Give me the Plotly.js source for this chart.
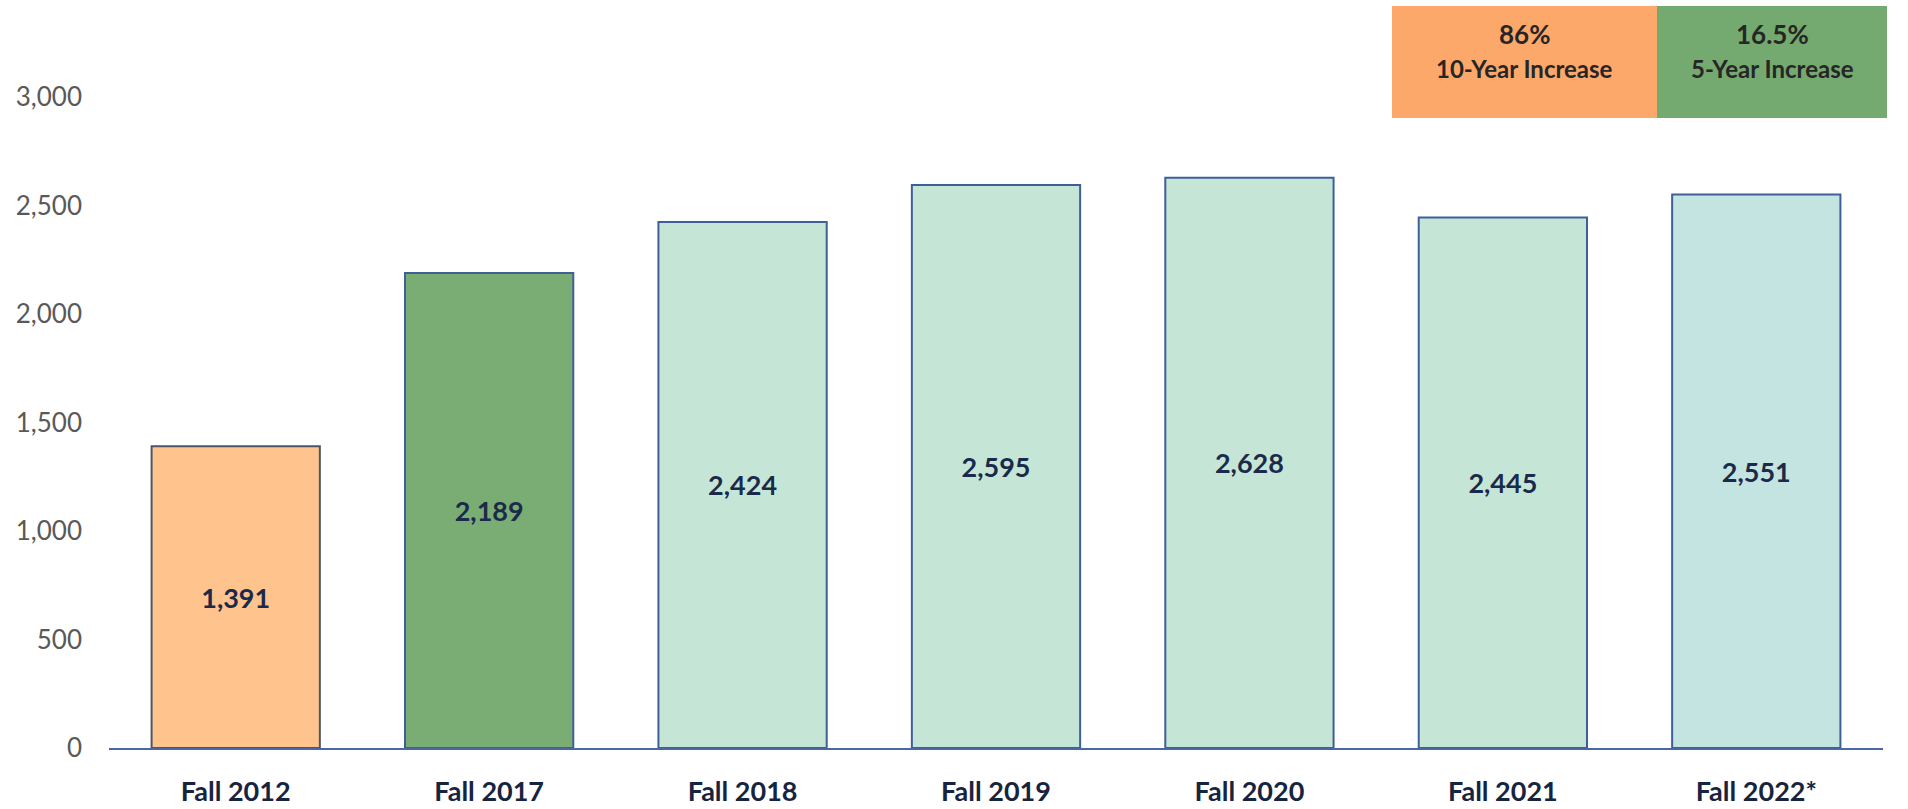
<!DOCTYPE html>
<html>
<head>
<meta charset="utf-8">
<script src="https://cdn.plot.ly/plotly-3.0.1.min.js"></script>
<style>
  html, body { margin: 0; padding: 0; background: #fff; }
  #plot { width: 1908px; height: 809px; }
</style>
</head>
<body>
<div id="plot"></div>
<script>
// Chart data
let terms = ['Fall 2012', 'Fall 2017', 'Fall 2018', 'Fall 2019', 'Fall 2020', 'Fall 2021', 'Fall 2022*'];
let enrollment = [1391, 2189, 2424, 2595, 2628, 2445, 2551];
let barColors = ['#FFC48E', '#79AD73', '#C5E6D6', '#C5E6D6', '#C5E6D6', '#C5E6D6', '#C3E4E0'];
let lineColors = ['#4d5566', '#3f5f99', '#3f5f99', '#3f5f99', '#3f5f99', '#3f5f99', '#3f5f99'];
let yTicks = [0, 500, 1000, 1500, 2000, 2500, 3000];

// Summary boxes above the chart
let boxValues = ['86%', '16.5%'];
let boxLabels = ['10-Year Increase', '5-Year Increase'];
let boxColors = ['#FDA86B', '#74A96F'];

// Plot area in pixels
let W = 1908, H = 809;
let plotLeft = 109, plotRight = 1883, plotTop = 97, plotBottom = 748;

function px(x) { return (x - plotLeft) / (plotRight - plotLeft); }
function py(y) { return (plotBottom - y) / (plotBottom - plotTop); }

let trace = {
    type: 'bar',
    x: terms,
    y: enrollment,
    marker: { color: barColors, line: { color: lineColors, width: 2 } },
    text: enrollment.map(v => v.toLocaleString('en-US')),
    textposition: 'inside',
    insidetextanchor: 'middle',
    textangle: 0,
    textfont: { family: 'Lato, sans-serif', size: 27, color: '#1b2a4a', weight: 'bold' },
    hoverinfo: 'x+y'
};

// Box edges (pixels)
let boxEdges = [[1392, 1657], [1657, 1887]];
let boxTop = 6, boxBottom = 118;

let shapes = [];
let annotations = [];
boxEdges.forEach(function(e, i) {
    shapes.push({
        type: 'rect', xref: 'paper', yref: 'paper',
        x0: px(e[0]), x1: px(e[1]), y0: py(boxBottom), y1: py(boxTop),
        fillcolor: boxColors[i], line: { width: 0 }, layer: 'above'
    });
    let cx = px((e[0] + e[1]) / 2);
    annotations.push({
        xref: 'paper', yref: 'paper', x: cx, y: py(34),
        xanchor: 'center', yanchor: 'middle',
        text: '<b>' + boxValues[i] + '</b>', showarrow: false,
        font: { family: 'Lato, sans-serif', size: 26, color: '#262626' }
    });
    annotations.push({
        xref: 'paper', yref: 'paper', x: cx, y: py(68),
        xanchor: 'center', yanchor: 'middle',
        text: '<b>' + boxLabels[i] + '</b>', showarrow: false,
        font: { family: 'Lato, sans-serif', size: 24, color: '#262626' }
    });
});

let layout = {
    width: W,
    height: H,
    margin: { l: plotLeft, r: W - plotRight, t: plotTop, b: H - plotBottom, pad: 0 },
    paper_bgcolor: '#ffffff',
    plot_bgcolor: '#ffffff',
    showlegend: false,
    bargap: 0.336,
    xaxis: {
        type: 'category',
        range: [-0.5, terms.length - 0.5],
        showline: true,
        linecolor: '#4a69a3',
        linewidth: 2,
        showgrid: false,
        ticks: '',
        ticklabelstandoff: 19,
        tickfont: { family: 'Lato, sans-serif', size: 27, color: '#17243f', weight: 'bold' }
    },
    yaxis: {
        range: [0, 3000],
        tickvals: yTicks,
        ticktext: yTicks.map(v => v.toLocaleString('en-US')),
        showgrid: false,
        zeroline: false,
        showline: false,
        ticks: '',
        ticklabelstandoff: 26,
        tickfont: { family: 'Lato, sans-serif', size: 26, color: '#595959' }
    },
    shapes: shapes,
    annotations: annotations
};

Plotly.newPlot('plot', [trace], layout, { displayModeBar: false, responsive: false });
</script>
</body>
</html>
